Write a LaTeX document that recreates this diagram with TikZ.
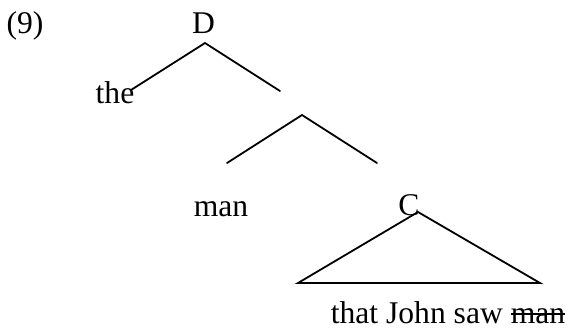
\documentclass[tikz,border=0pt]{standalone}
\usepackage{fontspec}
\setmainfont{Liberation Serif}
\usetikzlibrary{positioning}
\newcommand{\strk}[1]{\setbox0\hbox{#1}\rlap{\rule[0.26em]{\wd0}{0.055em}}\box0}

\begin{document}
\begin{tikzpicture}[
    x=0.5pt, y=-0.5pt,
    word/.style={inner sep=0pt, anchor=base, font=\fontsize{15.8}{19}\selectfont},
    branch/.style={line width=0.9pt, line cap=round}
]
    \useasboundingbox (0,0) rectangle (569,329);

    % labels
    \node[word] (num) at (25,33) {(9)};
    \node[word] (D) at (203.5,33) {D};
    \node[word] (the) at (115,103) {the};
    \node[word] (man) at (221,216) {man};
    \node[word] (C) at (409,215) {C};
    \node[word] (rel) at (448,323) {that John saw \strk{man}};

    % branch points
    \coordinate (d-top) at (205,43);
    \coordinate (d-left) at (131,90);
    \coordinate (d-right) at (280,91);
    \coordinate (n-top) at (302,115);
    \coordinate (n-left) at (227,163);
    \coordinate (n-right) at (377,163);
    \coordinate (c-top) at (418,212);
    \coordinate (c-left) at (298,283);
    \coordinate (c-right) at (540,283);

    \draw[branch] (d-left) -- (d-top) -- (d-right);
    \draw[branch] (n-left) -- (n-top) -- (n-right);
    \draw[branch, line join=miter] (c-top) -- (c-left) -- (c-right) -- cycle;
\end{tikzpicture}
\end{document}
